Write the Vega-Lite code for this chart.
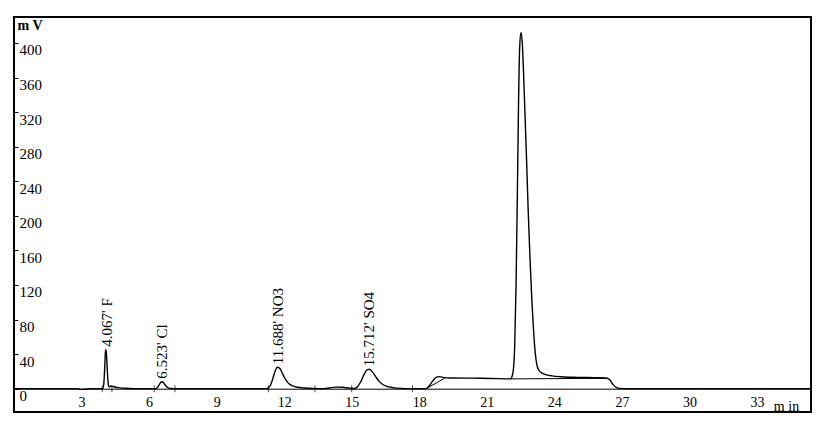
{
  "$schema": "https://vega.github.io/schema/vega-lite/v6.json",
  "width": 797,
  "height": 395,
  "autosize": {"type": "none"},
  "padding": {"left": 14, "top": 17, "right": 14, "bottom": 15},
  "background": "white",
  "config": {
    "view": {"stroke": "black", "strokeWidth": 2},
    "font": "Liberation Serif",
    "axis": {"labelOverlap": false, "labelBound": false, "labelFlush": false}
  },
  "datasets": {
    "signal": [
      {"t": 0, "mV": 0}, {"t": 2.8, "mV": 0}, {"t": 2.95, "mV": -0.8}, {"t": 3.15, "mV": -0.6}, {"t": 3.4, "mV": 0},
      {"t": 3.94, "mV": 0}, {"t": 3.99, "mV": 6}, {"t": 4.03, "mV": 25}, {"t": 4.06, "mV": 42}, {"t": 4.08, "mV": 45},
      {"t": 4.11, "mV": 39}, {"t": 4.15, "mV": 18}, {"t": 4.19, "mV": 5}, {"t": 4.23, "mV": 2}, {"t": 4.3, "mV": 3},
      {"t": 4.4, "mV": 2.5}, {"t": 4.6, "mV": 1.2}, {"t": 4.9, "mV": 0.5}, {"t": 5.3, "mV": 0},
      {"t": 6.3, "mV": 0}, {"t": 6.4, "mV": 2.5}, {"t": 6.5, "mV": 6.5}, {"t": 6.57, "mV": 8}, {"t": 6.65, "mV": 6.5},
      {"t": 6.75, "mV": 3}, {"t": 6.85, "mV": 1}, {"t": 7.0, "mV": 0.2}, {"t": 7.2, "mV": 0},
      {"t": 11.2, "mV": 0}, {"t": 11.3, "mV": 1}, {"t": 11.4, "mV": 4.5}, {"t": 11.5, "mV": 12}, {"t": 11.6, "mV": 20.5},
      {"t": 11.7, "mV": 24.7}, {"t": 11.8, "mV": 23.5}, {"t": 11.9, "mV": 19}, {"t": 12.0, "mV": 13.5}, {"t": 12.1, "mV": 9},
      {"t": 12.25, "mV": 5}, {"t": 12.4, "mV": 3}, {"t": 12.6, "mV": 1.6}, {"t": 12.9, "mV": 0.7}, {"t": 13.3, "mV": 0.2},
      {"t": 13.8, "mV": 0}, {"t": 14.0, "mV": 0.8}, {"t": 14.3, "mV": 1.8}, {"t": 14.6, "mV": 1.6}, {"t": 14.9, "mV": 0.6},
      {"t": 15.1, "mV": 0.2}, {"t": 15.25, "mV": 2}, {"t": 15.4, "mV": 8}, {"t": 15.55, "mV": 16.5}, {"t": 15.7, "mV": 22},
      {"t": 15.78, "mV": 22.4}, {"t": 15.9, "mV": 20}, {"t": 16.05, "mV": 14.5}, {"t": 16.2, "mV": 9}, {"t": 16.4, "mV": 4.5},
      {"t": 16.65, "mV": 2}, {"t": 17.0, "mV": 0.6}, {"t": 17.4, "mV": 0.1}, {"t": 18.3, "mV": 0},
      {"t": 18.45, "mV": 3.5}, {"t": 18.6, "mV": 9}, {"t": 18.75, "mV": 13}, {"t": 18.9, "mV": 13.9}, {"t": 19.1, "mV": 12.8},
      {"t": 19.4, "mV": 12.3}, {"t": 20.2, "mV": 12.2}, {"t": 21.2, "mV": 11.8}, {"t": 22.05, "mV": 11.3},
      {"t": 22.12, "mV": 14}, {"t": 22.18, "mV": 22}, {"t": 22.24, "mV": 50}, {"t": 22.3, "mV": 120}, {"t": 22.36, "mV": 230},
      {"t": 22.41, "mV": 330}, {"t": 22.46, "mV": 395}, {"t": 22.52, "mV": 412}, {"t": 22.58, "mV": 398}, {"t": 22.64, "mV": 360},
      {"t": 22.7, "mV": 315}, {"t": 22.76, "mV": 270}, {"t": 22.84, "mV": 205}, {"t": 22.92, "mV": 150}, {"t": 23.0, "mV": 103},
      {"t": 23.08, "mV": 66}, {"t": 23.15, "mV": 42}, {"t": 23.22, "mV": 28}, {"t": 23.32, "mV": 21}, {"t": 23.45, "mV": 18},
      {"t": 23.66, "mV": 16}, {"t": 23.9, "mV": 14.8}, {"t": 24.3, "mV": 13.8}, {"t": 25.0, "mV": 13.1}, {"t": 25.8, "mV": 12.7},
      {"t": 26.3, "mV": 12.4}, {"t": 26.45, "mV": 10.5}, {"t": 26.6, "mV": 5}, {"t": 26.75, "mV": 1.5}, {"t": 26.9, "mV": 0.3},
      {"t": 27.3, "mV": 0}, {"t": 35.4, "mV": 0}
    ],
    "baselines": [
      {"seg": "a", "t": 18.3, "mV": 0}, {"seg": "a", "t": 19.15, "mV": 12.3},
      {"seg": "b", "t": 22.05, "mV": 11.3}, {"seg": "b", "t": 26.3, "mV": 12.0}
    ],
    "markers": [
      {"t": 3.92, "mV": 0}, {"t": 4.35, "mV": 0}, {"t": 6.23, "mV": 0}, {"t": 7.15, "mV": 0},
      {"t": 11.3, "mV": 0}, {"t": 13.37, "mV": 0}, {"t": 15.0, "mV": 0}, {"t": 17.7, "mV": 0}
    ],
    "labels": [
      {"t": 4.067, "mV": 45, "label": "4.067' F"},
      {"t": 6.523, "mV": 8, "label": "6.523' Cl"},
      {"t": 11.688, "mV": 24.7, "label": "11.688' NO3"},
      {"t": 15.712, "mV": 22.4, "label": "15.712' SO4"}
    ]
  },
  "encoding": {
    "x": {
      "field": "t", "type": "quantitative",
      "scale": {"domain": [0, 35.4], "nice": false, "zero": false},
      "axis": {
        "orient": "bottom", "offset": -23.3,
        "values": [3, 6, 9, 12, 15, 18, 21, 24, 27, 30, 33],
        "grid": false, "ticks": false, "domain": true, "domainColor": "black", "domainWidth": 1,
        "labelFont": "Liberation Serif", "labelFontSize": 14, "labelColor": "black", "labelPadding": 7,
        "title": "m in", "titleFont": "Liberation Serif", "titleFontSize": 14, "titleFontWeight": "normal",
        "titleColor": "black", "titleX": 772, "titleY": 18, "titleAngle": 0, "titleAlign": "center", "titleBaseline": "middle"
      }
    },
    "y": {
      "field": "mV", "type": "quantitative",
      "scale": {"domain": [-27, 430], "nice": false, "zero": false},
      "axis": {
        "orient": "left",
        "values": [0, 40, 80, 120, 160, 200, 240, 280, 320, 360, 400],
        "grid": false, "domain": false, "ticks": true, "tickSize": -4, "tickColor": "black", "tickWidth": 1,
        "labelAlign": "left", "labelBaseline": "top", "labelPadding": -1,
        "labelFont": "Liberation Serif", "labelFontSize": 15, "labelColor": "black",
        "title": "m V", "titleFont": "Liberation Serif", "titleFontSize": 14, "titleFontWeight": "bold",
        "titleColor": "black", "titleX": 3, "titleY": 8, "titleAngle": 0, "titleAlign": "left", "titleBaseline": "middle"
      }
    }
  },
  "layer": [
    {
      "data": {"name": "signal"},
      "mark": {"type": "line", "color": "black", "strokeWidth": 1.4, "interpolate": "monotone"}
    },
    {
      "data": {"name": "baselines"},
      "mark": {"type": "line", "color": "black", "strokeWidth": 1},
      "encoding": {"detail": {"field": "seg"}}
    },
    {
      "data": {"name": "markers"},
      "mark": {"type": "tick", "orient": "vertical", "color": "black", "size": 7, "thickness": 1}
    },
    {
      "data": {"name": "labels"},
      "mark": {"type": "text", "angle": 270, "align": "left", "baseline": "middle", "dx": 3, "dy": 1, "font": "Liberation Serif", "fontSize": 15, "color": "black"},
      "encoding": {"text": {"field": "label"}}
    }
  ]
}
